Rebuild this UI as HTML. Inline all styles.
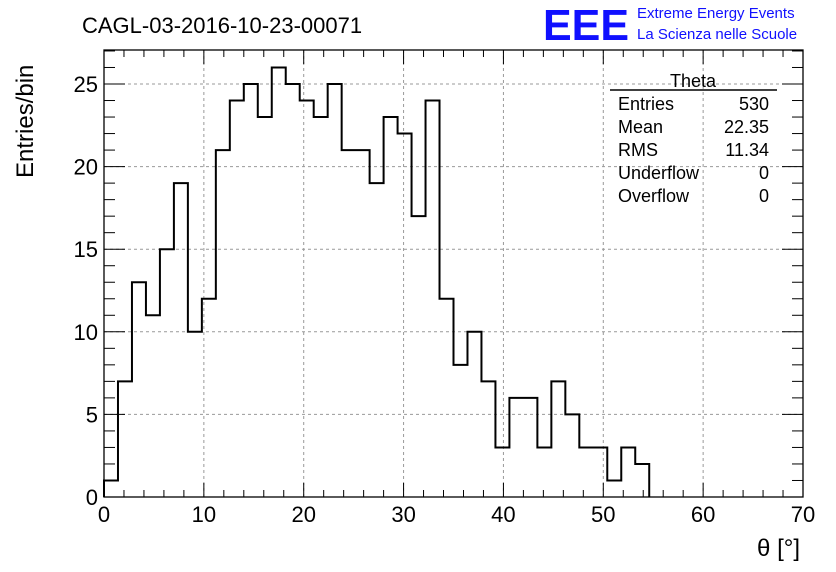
<!DOCTYPE html>
<html><head><meta charset="utf-8">
<style>
body{margin:0;background:#fff;}
svg{display:block;font-family:"Liberation Sans",sans-serif;}
</style></head>
<body>
<svg id="c" width="836" height="572" viewBox="0 0 836 572">
<rect x="0" y="0" width="836" height="572" fill="#fff"/>
<text x="82" y="33" font-size="22">CAGL-03-2016-10-23-00071</text>
<text x="543" y="40" font-size="44" fill="#1010ff" font-weight="bold" textLength="86" lengthAdjust="spacingAndGlyphs">EEE</text>
<text x="637" y="18" font-size="15" fill="#1010ff">Extreme Energy Events</text>
<text x="637" y="39" font-size="15" fill="#1010ff">La Scienza nelle Scuole</text>
<g id="grid"></g>
<g id="ticks"></g>
<path id="hist" fill="none" stroke="#000" stroke-width="2"/>
<rect x="104" y="50" width="699" height="447" fill="none" stroke="#000" stroke-width="1.3"/>
<g id="labels" font-size="22"></g>
<text x="33" y="112" font-size="24" transform="rotate(-90 33 112)" text-anchor="middle" dy="-8" style="display:none"></text>
<text transform="translate(33,178) rotate(-90)" font-size="24">Entries/bin</text>
<text x="800" y="556" font-size="24" text-anchor="end">θ [°]</text>
<g font-size="18">
<line x1="610" y1="90" x2="777" y2="90" stroke="#000" stroke-width="1.5"/>
<text x="693" y="87" text-anchor="middle">Theta</text>
<text x="618" y="110">Entries</text><text x="769" y="110" text-anchor="end">530</text>
<text x="618" y="133">Mean</text><text x="769" y="133" text-anchor="end">22.35</text>
<text x="618" y="156">RMS</text><text x="769" y="156" text-anchor="end">11.34</text>
<text x="618" y="179">Underflow</text><text x="769" y="179" text-anchor="end">0</text>
<text x="618" y="202">Overflow</text><text x="769" y="202" text-anchor="end">0</text>
</g>
</svg>
<script>
const counts=[1,7,13,11,15,19,10,12,21,24,25,23,26,25,24,23,25,21,21,19,23,22,17,24,12,8,10,7,3,6,6,3,7,5,3,3,1,3,2,0,0,0,0,0,0,0,0,0,0,0];
const xTicks=[0,10,20,30,40,50,60,70];
const yTicks=[0,5,10,15,20,25];
const binWidth=1.4;
const X0=104,X1=803,Y0=497,Y1=50;
const xs=v=>X0+(v/70)*(X1-X0);
const ys=v=>Y0-v*(497-84)/25;
const NS="http://www.w3.org/2000/svg";
function mk(tag,attrs,parent){const e=document.createElementNS(NS,tag);for(const k in attrs)e.setAttribute(k,attrs[k]);parent.appendChild(e);return e;}
const grid=document.getElementById('grid'),ticks=document.getElementById('ticks'),labels=document.getElementById('labels');
xTicks.forEach(t=>{
  const x=xs(t);
  if(t>0&&t<70){const g=mk('line',{x1:x,x2:x,y1:Y1,y2:Y0,stroke:'#999','stroke-dasharray':'3,3'},grid);
  
  }
  const l=mk('text',{x:x,y:522,'text-anchor':'middle'},labels);
  
  
  l.textContent=t;
});
yTicks.forEach(t=>{
  const y=ys(t);
  if(t>0){const g=mk('line',{x1:X0,x2:X1,y1:y,y2:y,stroke:'#999','stroke-dasharray':'3,3'},grid);
  
  }
  const l=mk('text',{x:98,y:y+8,'text-anchor':'end'},labels);
  
  
  l.textContent=t;
});
for(let v=0;v<=70;v+=2){const x=xs(v),len=v%10===0?14:7;
  mk('line',{x1:x,x2:x,y1:Y0,y2:Y0-len,stroke:'#000'},ticks);
  mk('line',{x1:x,x2:x,y1:Y1,y2:Y1+len,stroke:'#000'},ticks);}
for(let v=0;v<=27;v++){const y=ys(v);if(y<Y1)break;const len=v%5===0?21:11;
  mk('line',{x1:X0,x2:X0+len,y1:y,y2:y,stroke:'#000'},ticks);
  mk('line',{x1:X1,x2:X1-len,y1:y,y2:y,stroke:'#000'},ticks);}
let last=counts.length-1;while(last>0&&counts[last]===0)last--;
let d='M'+xs(0)+','+ys(0);
for(let i=0;i<=last;i++){d+=' L'+xs(i*binWidth)+','+ys(counts[i])+' L'+xs((i+1)*binWidth)+','+ys(counts[i]);}
d+=' L'+xs((last+1)*binWidth)+','+ys(0);
document.getElementById('hist').setAttribute('d',d);
</script>
</body></html>
